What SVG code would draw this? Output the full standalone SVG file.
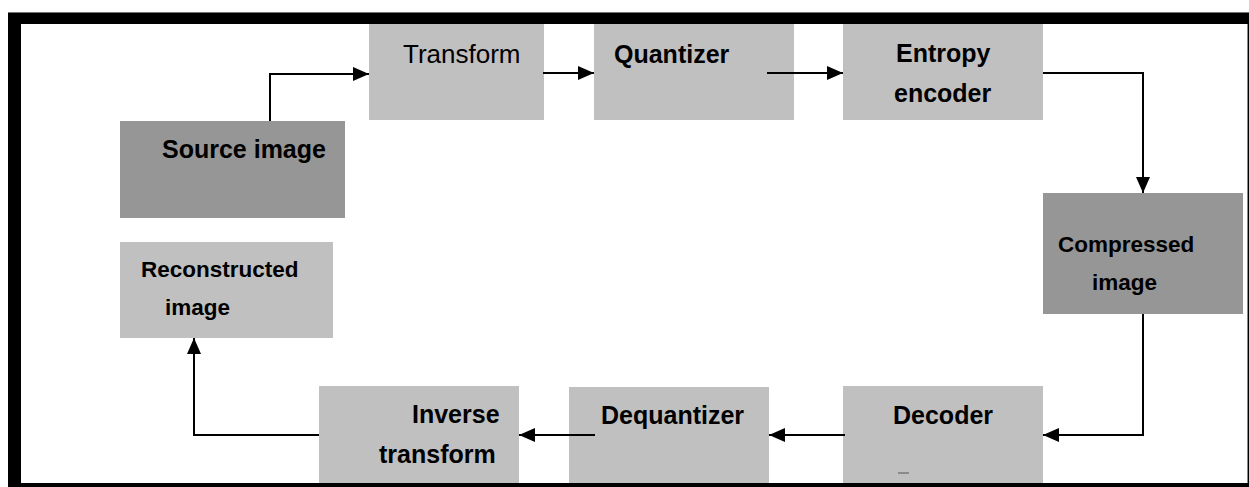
<svg xmlns="http://www.w3.org/2000/svg" width="1249" height="487" viewBox="0 0 1249 487">
  <style>
    .dark { fill: #969696; }
    .light { fill: #c0c0c0; }
    .lbl { font-family: "Liberation Sans", Arial, sans-serif; font-weight: bold; font-size: 25px; fill: #000; }
    .sm { font-size: 22.5px; }
    .reg { font-weight: normal; font-size: 26px; }
    .wire { fill: none; stroke: #000; stroke-width: 2; }
  </style>
  <defs>
    <marker id="arrow" markerUnits="userSpaceOnUse" markerWidth="16" markerHeight="14" refX="16" refY="7" orient="auto">
      <path d="M0,0 L16,7 L0,14 z" fill="#000"/>
    </marker>
  </defs>

  <!-- page frame: heavy top/left/bottom, hairline right -->
  <g id="frame">
    <rect x="0" y="0" width="1249" height="487" fill="#fff"/>
    <rect x="8" y="12" width="1241" height="475" fill="#000"/>
    <rect x="8" y="12" width="1241" height="1" fill="#777"/>
    <rect x="21" y="24" width="1226" height="459" fill="#fff"/>
    <rect x="1247" y="24" width="1" height="459" fill="#888"/>
  </g>

  <g id="source-image">
    <rect class="dark" x="120" y="121" width="225" height="97"/>
    <text class="lbl" x="162" y="158">Source image</text>
  </g>

  <g id="transform">
    <rect class="light" x="369" y="24" width="175" height="96"/>
    <text class="lbl reg" x="403" y="63">Transform</text>
  </g>

  <g id="quantizer">
    <rect class="light" x="594" y="24" width="200" height="96"/>
    <text class="lbl" x="614" y="63">Quantizer</text>
  </g>

  <g id="entropy-encoder">
    <rect class="light" x="843" y="24" width="200" height="96"/>
    <text class="lbl" x="896" y="62">Entropy</text>
    <text class="lbl" x="894" y="102">encoder</text>
  </g>

  <g id="compressed-image">
    <rect class="dark" x="1043" y="193" width="200" height="121"/>
    <text class="lbl sm" x="1058" y="252">Compressed</text>
    <text class="lbl sm" x="1092" y="290">image</text>
  </g>

  <g id="decoder">
    <rect class="light" x="843" y="386" width="200" height="97"/>
    <text class="lbl" x="893" y="424">Decoder</text>
    <rect x="898" y="472.5" width="11" height="1" fill="#555"/>
  </g>

  <g id="dequantizer">
    <rect class="light" x="569" y="387" width="200" height="96"/>
    <text class="lbl" x="601" y="424">Dequantizer</text>
  </g>

  <g id="inverse-transform">
    <rect class="light" x="319" y="386" width="200" height="97"/>
    <text class="lbl" x="412" y="423">Inverse</text>
    <text class="lbl" x="379" y="463">transform</text>
  </g>

  <g id="reconstructed-image">
    <rect class="light" x="120" y="242" width="213" height="96"/>
    <text class="lbl sm" x="141" y="277">Reconstructed</text>
    <text class="lbl sm" x="165" y="315">image</text>
  </g>

  <g id="connectors">
    <path class="wire" d="M270,121 V74 H369" marker-end="url(#arrow)"/>
    <path class="wire" d="M543,73 H594" marker-end="url(#arrow)"/>
    <path class="wire" d="M767,73 H843" marker-end="url(#arrow)"/>
    <path class="wire" d="M1043,73 H1143 V193" marker-end="url(#arrow)"/>
    <path class="wire" d="M1143,314 V435 H1043" marker-end="url(#arrow)"/>
    <path class="wire" d="M845,435 H769" marker-end="url(#arrow)"/>
    <path class="wire" d="M595,435 H519" marker-end="url(#arrow)"/>
    <path class="wire" d="M319,435 H194 V338" marker-end="url(#arrow)"/>
  </g>
</svg>
